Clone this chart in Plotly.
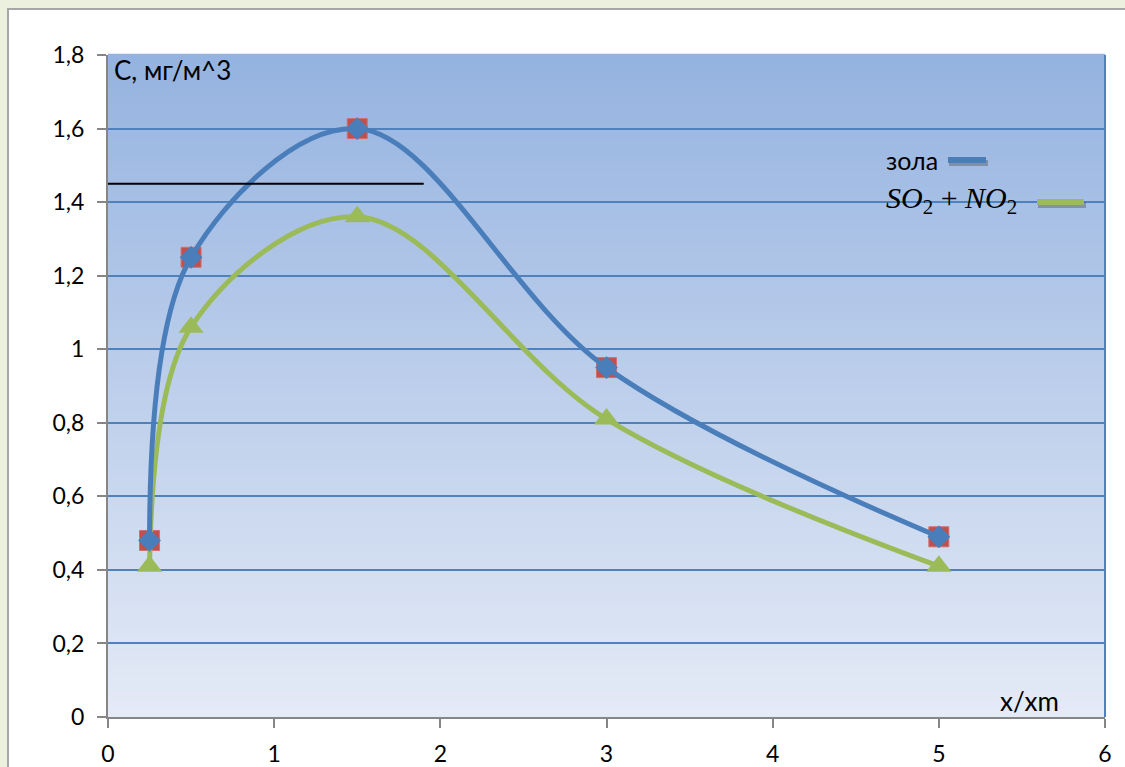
import plotly.graph_objects as go

# Distance from source, x/xm
x_dist = [0.25, 0.5, 1.5, 3, 5]
# Concentration, mg/m^3
ash_c = [0.48, 1.25, 1.60, 0.95, 0.49]
gas_c = [0.41, 1.06, 1.36, 0.81, 0.41]
# Limit line
limit_x = [0, 1.9]
limit_y = [1.45, 1.45]

x_ticks = [0, 1, 2, 3, 4, 5, 6]
y_ticks = [0, 0.2, 0.4, 0.6, 0.8, 1.0, 1.2, 1.4, 1.6, 1.8]

BLUE = "#4a7ebb"
GREEN = "#9bbb59"
RED = "#c0504d"
FONT = "Lato"
FS = 23
FS_LABEL = 26


def px_x(p):
    return (p - 108) / 997


def px_y(p):
    return (717 - p) / 662


fig = go.Figure()

# red square markers under the ash curve
fig.add_trace(go.Scatter(
    x=x_dist, y=ash_c, mode="markers", showlegend=False,
    marker=dict(symbol="square", size=20, color=RED,
                line=dict(color="#d0706d", width=1)),
))
fig.add_trace(go.Scatter(
    x=x_dist, y=gas_c, mode="lines+markers", name="SO2 + NO2",
    line=dict(color=GREEN, width=5, shape="spline", smoothing=1.0),
    marker=dict(symbol="triangle-up", size=22, color=GREEN),
    showlegend=False,
))
fig.add_trace(go.Scatter(
    x=x_dist, y=ash_c, mode="lines+markers", name="зола",
    line=dict(color=BLUE, width=5, shape="spline", smoothing=1.0),
    marker=dict(symbol="diamond", size=17.5, color=BLUE),
    showlegend=False,
))
fig.add_trace(go.Scatter(
    x=limit_x, y=limit_y, mode="lines", showlegend=False,
    line=dict(color="black", width=2),
))

shapes = []
# white chart panel with grey border
shapes.append(dict(type="rect", xref="paper", yref="paper",
                   x0=px_x(8), x1=1.3, y0=-0.3, y1=px_y(9),
                   fillcolor="white", line=dict(color="#a6a6a6", width=2),
                   layer="below"))
# vertical gradient in the plot area
top = (0x95, 0xb3, 0xe0)
bot = (0xe4, 0xea, 0xf6)
n = 80
for i in range(n):
    t = i / (n - 1)
    c = tuple(round(bot[k] + (top[k] - bot[k]) * t) for k in range(3))
    shapes.append(dict(type="rect", xref="x domain", yref="y domain",
                       x0=0, x1=1, y0=i / n, y1=(i + 1) / n + 0.002,
                       fillcolor="rgb(%d,%d,%d)" % c, line=dict(width=0),
                       layer="below"))
# right border of plot area
shapes.append(dict(type="line", xref="x domain", yref="y domain",
                   x0=1, x1=1, y0=0, y1=1,
                   line=dict(color="#4f81bd", width=2)))
# legend keys with soft shadow
for (a, b, yk, col) in [(948, 986, 160, BLUE), (1037, 1084, 202, GREEN)]:
    shapes.append(dict(type="line", xref="paper", yref="paper",
                       x0=px_x(a + 1), x1=px_x(b + 2),
                       y0=px_y(yk + 3), y1=px_y(yk + 3),
                       line=dict(color="rgba(60,60,60,0.35)", width=6)))
    shapes.append(dict(type="line", xref="paper", yref="paper",
                       x0=px_x(a), x1=px_x(b), y0=px_y(yk), y1=px_y(yk),
                       line=dict(color=col, width=6)))

annotations = [
    dict(text="С, мг/м^3", xref="paper", yref="paper",
         x=px_x(112), y=px_y(70), xanchor="left", yanchor="middle",
         showarrow=False, font=dict(family=FONT, size=FS_LABEL, color="black")),
    dict(text="x/xm", xref="paper", yref="paper",
         x=px_x(1029), y=px_y(701), xanchor="center", yanchor="middle",
         showarrow=False, font=dict(family=FONT, size=FS_LABEL, color="black")),
    dict(text="зола", xref="paper", yref="paper",
         x=px_x(884), y=px_y(160), xanchor="left", yanchor="middle",
         showarrow=False, font=dict(family=FONT, size=25, color="black")),
    dict(text="<i>SO</i><sub>2</sub> + <i>NO</i><sub>2</sub>", xref="paper", yref="paper",
         x=px_x(884), y=px_y(200), xanchor="left", yanchor="middle",
         showarrow=False, font=dict(family="Liberation Serif", size=30, color="black")),
]

fig.update_layout(
    width=1125, height=767,
    margin=dict(l=108, r=20, t=55, b=50),
    paper_bgcolor="#ebf1de",
    plot_bgcolor="rgba(0,0,0,0)",
    separators=", ",
    shapes=shapes,
    annotations=annotations,
    font=dict(family=FONT, size=FS, color="black"),
)
fig.update_xaxes(
    range=[0, 6], tickvals=x_ticks, showgrid=False, zeroline=False,
    showline=True, linecolor="#868686", linewidth=2,
    ticks="outside", ticklen=9, tickwidth=2, tickcolor="#868686",
    tickfont=dict(family=FONT, size=FS, color="black"), ticklabelstandoff=6,
    automargin=False,
)
fig.update_yaxes(
    range=[0, 1.8], tickvals=y_ticks, showgrid=True, gridcolor="#4f81bd", gridwidth=1.5,
    zeroline=False, showline=True, linecolor="#868686", linewidth=2,
    ticks="outside", ticklen=9, tickwidth=2, tickcolor="#868686",
    tickfont=dict(family=FONT, size=FS, color="black"), ticklabelstandoff=8,
    automargin=False,
)

fig.write_html("out.html")
